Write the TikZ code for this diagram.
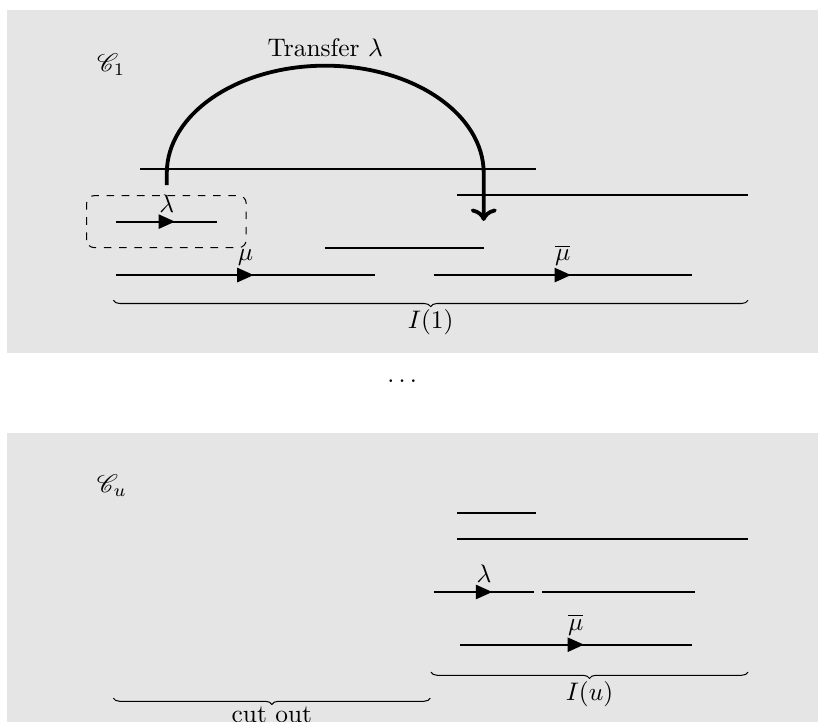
\documentclass[tikz,border=0pt]{standalone}
\usepackage{amsmath,amssymb}
\usepackage{mathrsfs}
\usetikzlibrary{arrows.meta,calc,decorations.pathreplacing,decorations.markings}
\definecolor{panelgray}{RGB}{229,229,229}
\tikzset{
 seg/.style={thick},
 midarrow/.style={thick,decoration={markings,mark=at position .5 with
   {\arrow[xshift=3.25pt]{Triangle[length=6.5pt,width=5.6pt]}}},postaction={decorate}},
 ubrace/.style={decorate,decoration={brace,mirror}},
}

\begin{document}
\begin{tikzpicture}[line join=round]
 \useasboundingbox (0,0) rectangle (11.33,10);
 \clip (0,0) rectangle (11.33,10);
 \fill[panelgray] (0.10,5.11) rectangle (11.5,9.86);
 \fill[panelgray] (0.10,-0.5) rectangle (11.5,4.00);
 % first collection
 \node (c1) at (1.54,9.10) {$\mathscr{C}_1$};
 \foreach \xa/\y/\xb in {1.94/7.66/7.42,6.33/7.30/10.36,4.50/6.57/6.70}
  {\draw[seg] (\xa,\y) -- (\xb,\y);}
 \draw[midarrow] (1.61,6.93) -- node[above] (lam) {$\lambda$} (3.01,6.93);
 \draw[midarrow] (1.61,6.19) -- node[above] (mu) {$\mu$} (5.19,6.19);
 \draw[midarrow] (6.01,6.19) -- node[above] (mubar) {$\overline{\mu}$} (9.58,6.19);
 \draw[dashed,rounded corners=3pt] (1.20,6.57) rectangle (3.41,7.29);
 \coordinate (A) at (2.31,7.60);
 \coordinate (T) at (6.70,6.94);
 \draw[line width=1.5pt,->] (lam.north) -- (A)
   arc[start angle=180,end angle=0,x radius=2.195,y radius=1.49] -- (T);
 \node[above] (tr) at (4.505,9.09) {Transfer $\lambda$};
 \draw[ubrace] (1.57,5.84) -- node[below] (I1) {$I(1)$} (10.36,5.84);
 \node (dots) at (5.60,4.72) {$\dots$};
 % last collection
 \node (cu) at (1.55,3.27) {$\mathscr{C}_u$};
 \foreach \xa/\y/\xb in {6.33/2.89/7.42,6.33/2.53/10.36,7.51/1.80/9.63}
  {\draw[seg] (\xa,\y) -- (\xb,\y);}
 \draw[midarrow] (6.01,1.80) -- node[above] (lamu) {$\lambda$} (7.40,1.80);
 \draw[midarrow] (6.37,1.07) -- node[above] (mubaru) {$\overline{\mu}$} (9.58,1.07);
 \draw[ubrace] (5.97,0.69) -- node[below] (Iu) {$I(u)$} (10.36,0.69);
 \draw[ubrace] (1.57,0.33) -- node[below] (cut) {cut out} (5.96,0.33);
\end{tikzpicture}
\end{document}
